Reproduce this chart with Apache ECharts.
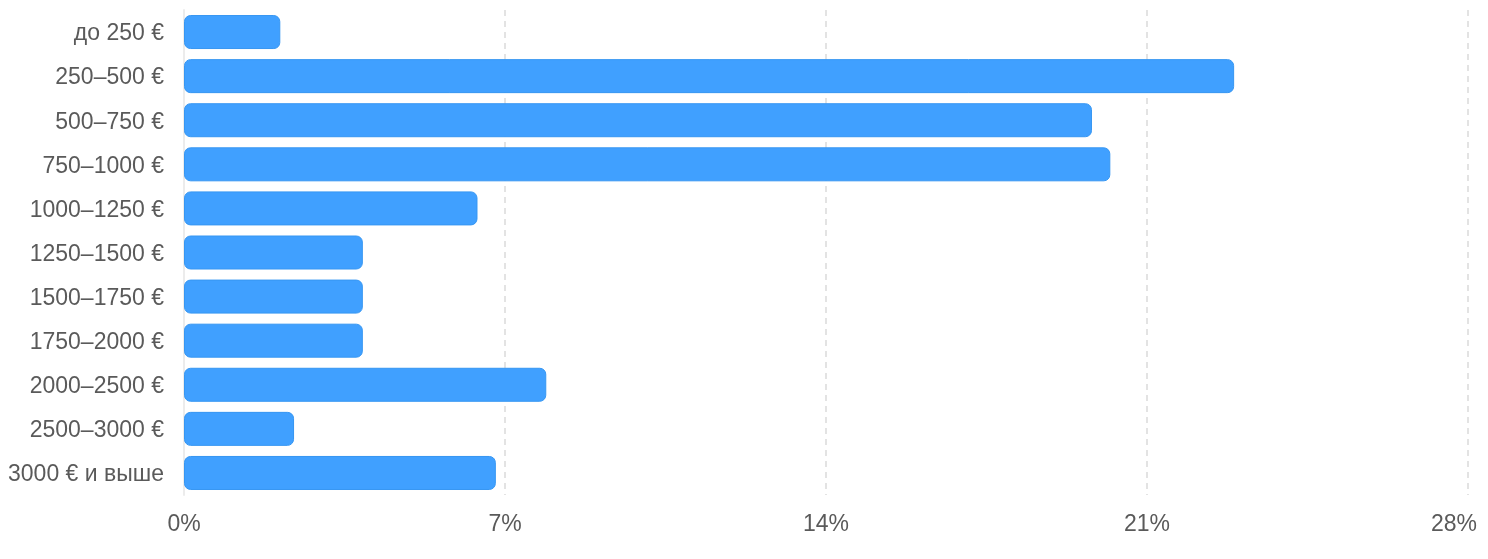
<!DOCTYPE html>
<html>
<head>
<meta charset="utf-8">
<script src="https://cdn.jsdelivr.net/npm/echarts@6/dist/echarts.min.js"></script>
<style>
html,body{margin:0;padding:0;background:#fff;}
#chart{width:1488px;height:559px;}
</style>
</head>
<body>
<div id="chart"></div>
<script>
const categories = ['до 250 €','250–500 €','500–750 €','750–1000 €','1000–1250 €','1250–1500 €','1500–1750 €','1750–2000 €','2000–2500 €','2500–3000 €','3000 € и выше'];
const values = [2.1, 22.9, 19.8, 20.2, 6.4, 3.9, 3.9, 3.9, 7.9, 2.4, 6.8];
const xTicks = [0, 7, 14, 21, 28];

const font = 'Liberation Sans, Arial, sans-serif';
const chart = echarts.init(document.getElementById('chart'));
chart.setOption({
  animation: false,
  grid: {left: 184, right: 20, top: 10, bottom: 64, containLabel: false, outerBoundsMode: 'none'},
  xAxis: {
    type: 'value', min: xTicks[0], max: xTicks[xTicks.length-1], interval: 7,
    axisLine: {show: false}, axisTick: {show: false},
    axisLabel: {
      color: '#5a5a5a', fontSize: 23, fontFamily: font, margin: 18,
      formatter: v => v === xTicks[xTicks.length-1] ? '{m|' + v + '%}' : v + '%',
      rich: {m: {color: '#5a5a5a', fontSize: 23, fontFamily: font, padding: [0, 28, 0, 0]}}
    },
    splitLine: {show: true, lineStyle: {color: '#e3e3e3', type: [6, 5], width: 2}}
  },
  yAxis: {
    type: 'category', data: categories, inverse: true,
    axisLine: {show: true, lineStyle: {color: '#ececec', width: 2}}, axisTick: {show: false},
    axisLabel: {
      color: '#5a5a5a', fontSize: 23, fontFamily: font, margin: 20,
      formatter: v => '{a|' + v + '}',
      rich: {a: {color: '#5a5a5a', fontSize: 23, fontFamily: font, padding: [4, 0, 0, 0]}}
    }
  },
  series: [{
    type: 'bar', data: values, barWidth: 34,
    itemStyle: {color: '#40a0ff', borderColor: '#3696f2', borderWidth: 1, borderRadius: 6}
  }]
});
</script>
</body>
</html>
